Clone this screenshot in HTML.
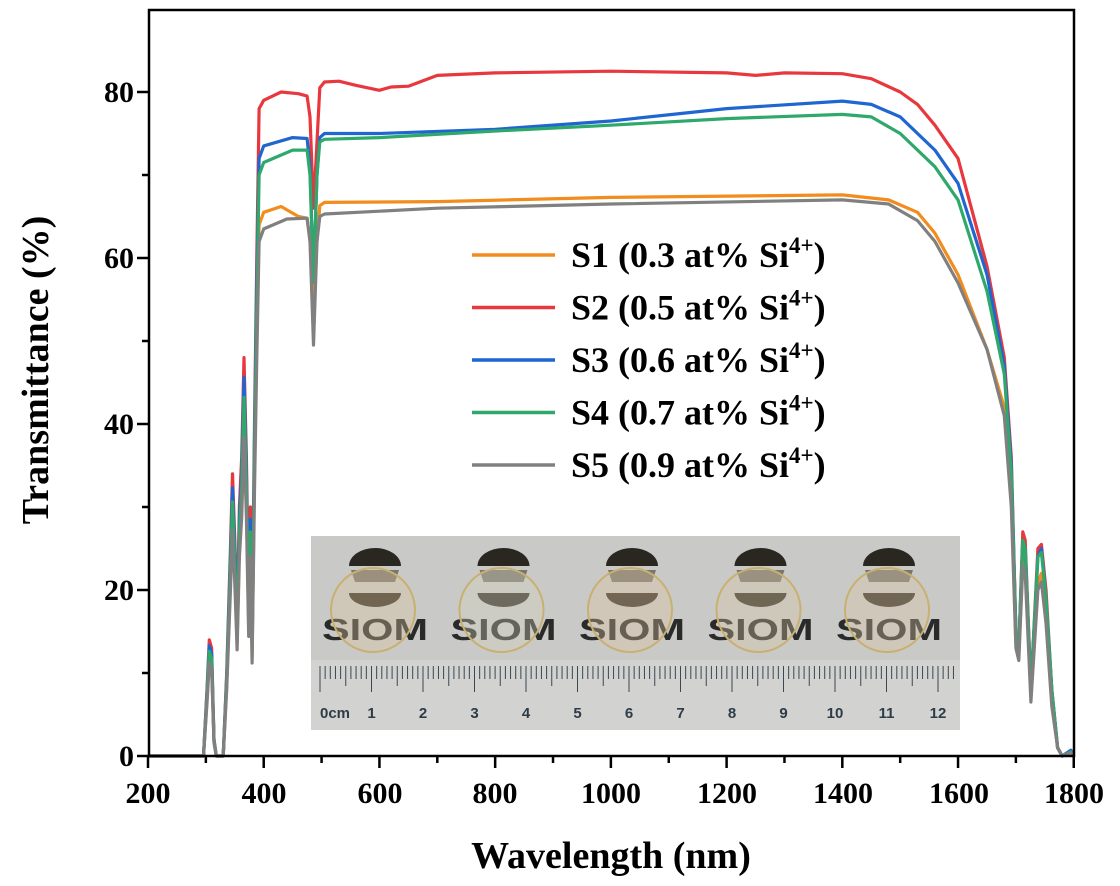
<!DOCTYPE html>
<html><head><meta charset="utf-8"><style>
html,body{margin:0;padding:0;background:#fff}
svg{display:block}
text{font-family:"Liberation Serif",serif;font-weight:bold}
text.sans{font-family:"Liberation Sans",sans-serif}
</style></head><body>
<svg id="s" width="1120" height="886" viewBox="0 0 1120 886" xmlns="http://www.w3.org/2000/svg">
<rect width="1120" height="886" fill="#fff"/>
<g id="photo"></g>
<g id="curves" fill="none" stroke-width="3.2" stroke-linejoin="round"></g>
<rect x="149" y="10" width="925" height="746" fill="none" stroke="#000" stroke-width="2.5"/>
<g id="ticks" stroke="#000" stroke-width="2.5"></g>
<g font-size="30" text-anchor="end">
<text x="134" y="766">0</text><text x="134" y="600">20</text><text x="134" y="434">40</text><text x="134" y="268">60</text><text x="134" y="102">80</text>
</g>
<g font-size="30" text-anchor="middle">
<text x="148" y="803">200</text><text x="264" y="803">400</text><text x="380" y="803">600</text><text x="495" y="803">800</text><text x="611" y="803">1000</text><text x="727" y="803">1200</text><text x="843" y="803">1400</text><text x="959" y="803">1600</text><text x="1074" y="803">1800</text>
</g>
<text x="611" y="868" font-size="38" text-anchor="middle">Wavelength (nm)</text>
<text transform="translate(48,370) rotate(-90)" font-size="38" text-anchor="middle">Transmittance (%)</text>
<g id="legend" font-size="36"></g>
</svg>
<script>
var X=function(w){return 148+(w-200)*0.5786},Y=function(t){return 756-t*8.3};
var low=[[200,0],[296,0],[302,8],[306,14],[310,13],[314,2],[318,0],[330,0],[336,10],[342,24],[346,34],[350,26],[354,16],[358,30],[362,36],[366,48],[370,36],[374,18],[377,30],[380,14],[384,40],[388,60]];
var lowScale={S1:0.85,S2:1,S3:0.95,S4:0.9,S5:0.8};
var data={
S2:{c:"#e8383d",p:[[392,78],[400,79],[430,80],[460,79.8],[475,79.5],[480,77],[486,66],[492,74],[497,80.5],[505,81.2],[530,81.3],[560,80.8],[600,80.2],[620,80.6],[650,80.7],[700,82],[800,82.3],[1000,82.5],[1200,82.3],[1250,82],[1300,82.3],[1400,82.2],[1450,81.6],[1500,80],[1530,78.5],[1560,76],[1600,72],[1650,59],[1680,48],[1692,36],[1700,15],[1705,13],[1712,27],[1716,26],[1726,8],[1738,25],[1744,25.5],[1752,20],[1762,8],[1772,1],[1780,0],[1795,0.6],[1800,0]]},
S1:{c:"#f28c1e",p:[[392,64],[400,65.5],[430,66.2],[460,65],[475,64.8],[480,62],[486,55],[492,62],[497,66.3],[505,66.7],[700,66.8],[1000,67.3],[1400,67.6],[1480,67],[1530,65.5],[1560,63],[1600,58],[1650,49],[1680,42],[1692,32],[1700,14],[1705,12],[1712,24],[1716,23],[1726,8],[1738,21],[1744,22],[1752,17],[1762,7],[1772,1],[1780,0],[1795,0.5],[1800,0]]},
S3:{c:"#1f66d1",p:[[392,72],[400,73.5],[450,74.5],[475,74.4],[480,71],[486,57],[492,70],[497,74.5],[505,75],[600,75],[800,75.5],[1000,76.5],[1200,78],[1400,78.9],[1450,78.5],[1500,77],[1560,73],[1600,69],[1650,58],[1680,47],[1692,35],[1700,15],[1705,13],[1712,26],[1716,25],[1726,8],[1738,24],[1744,25],[1752,19],[1762,8],[1772,1],[1780,0],[1795,0.7],[1800,0]]},
S4:{c:"#2fa86b",p:[[392,70],[400,71.5],[450,73],[475,73],[480,70],[486,57],[492,70],[497,74],[505,74.3],[600,74.5],[800,75.3],[1000,76],[1200,76.8],[1400,77.3],[1450,77],[1500,75],[1560,71],[1600,67],[1650,56],[1680,46],[1692,34],[1700,15],[1705,13],[1712,26],[1716,25],[1726,8],[1738,24],[1744,24.5],[1752,19],[1762,8],[1772,1],[1780,0],[1795,0.5],[1800,0]]},
S5:{c:"#808080",p:[[392,62],[400,63.5],[440,64.7],[475,64.8],[480,62],[486,49.5],[492,62],[497,65],[505,65.3],[700,66],[1000,66.5],[1400,67],[1480,66.5],[1530,64.5],[1560,62],[1600,57],[1650,49],[1680,41],[1692,30],[1700,13],[1705,11.5],[1712,23],[1716,22],[1726,6.5],[1738,20],[1744,21],[1752,16],[1762,6],[1772,1],[1780,0],[1795,0.4],[1800,0]]}
};
var NS="http://www.w3.org/2000/svg";
function el(t,a,p){var e=document.createElementNS(NS,t);for(var k in a)e.setAttribute(k,a[k]);p.appendChild(e);return e}
var cg=document.getElementById("curves");
["S1","S2","S3","S4","S5"].forEach(function(k){var d=data[k],pts=[];
low.forEach(function(q){pts.push(X(q[0]).toFixed(1)+","+Y(q[1]*lowScale[k]).toFixed(1))});
d.p.forEach(function(q){pts.push(X(q[0]).toFixed(1)+","+Y(q[1]).toFixed(1))});
el("polyline",{points:pts.join(" "),stroke:d.c},cg)});
var tg=document.getElementById("ticks");
for(var v=0;v<=80;v+=10){var y=Y(v);el("line",{x1:149,x2:v%20?142:137,y1:y,y2:y},tg)}
for(var w=200;w<=1800;w+=100){var x=X(w);el("line",{x1:x,x2:x,y1:756,y2:w%200?763:768},tg)}
var lg=document.getElementById("legend");
var L=[["S1 (0.3 at% Si","#f28c1e"],["S2 (0.5 at% Si","#e8383d"],["S3 (0.6 at% Si","#1f66d1"],["S4 (0.7 at% Si","#2fa86b"],["S5 (0.9 at% Si","#808080"]];
L.forEach(function(l,i){var y=255+i*52.5;el("line",{x1:472,x2:555,y1:y,y2:y,stroke:l[1],"stroke-width":3.5},lg);
var t=el("text",{x:571,y:y+12},lg);t.textContent=l[0];
var s=el("tspan",{dy:-14,"font-size":23},t);s.textContent="4+";
var s2=el("tspan",{dy:14},t);s2.textContent=")";});
var pg=document.getElementById("photo");
el("rect",{x:311,y:536,width:649,height:194,fill:"#c9c9c7"},pg);
el("rect",{x:311,y:660,width:649,height:70,fill:"#d2d2d0"},pg);
var cols=["#d9c39a","#d2d0bd","#dcc3a0","#d6c6a4","#d9c6a2"];
for(var i=0;i<5;i++){var cx=375+i*128.5;
el("path",{d:"M"+(cx-26)+",566 A26,18 0 0 1 "+(cx+26)+",566 Z",fill:"#2a2620"},pg);
el("path",{d:"M"+(cx-24)+",570 L"+(cx+24)+",570 L"+(cx+20)+",582 L"+(cx-20)+",582 Z",fill:"#7a766e"},pg);
el("path",{d:"M"+(cx-26)+",593 L"+(cx+26)+",593 A26,14 0 0 1 "+(cx-26)+",593 Z",fill:"#3a342a"},pg);
var t=el("text",{"class":"sans",x:cx,y:640,"font-size":31,"text-anchor":"middle",fill:"#2a2a2a","textLength":"106","lengthAdjust":"spacingAndGlyphs"},pg);t.textContent="SIOM";
el("circle",{cx:cx-2,cy:610,r:42,fill:cols[i],"fill-opacity":0.35,stroke:"#c8b070","stroke-width":2},pg);}
for(var m=0;m<=126;m++){var x=320+m*5.15;var h=m%10==0?26:(m%5==0?20:13);
if(x>958)break;el("line",{x1:x,x2:x,y1:666,y2:666+h,stroke:"#3a4850","stroke-width":1},pg);}
for(var c=0;c<=12;c++){var t=el("text",{"class":"sans",x:320+c*51.5,y:718,"font-size":15,"text-anchor":c==0?"start":"middle",fill:"#2e3c48","font-weight":"normal"},pg);t.textContent=c==0?"0cm":String(c);}
</script>
</body></html>
